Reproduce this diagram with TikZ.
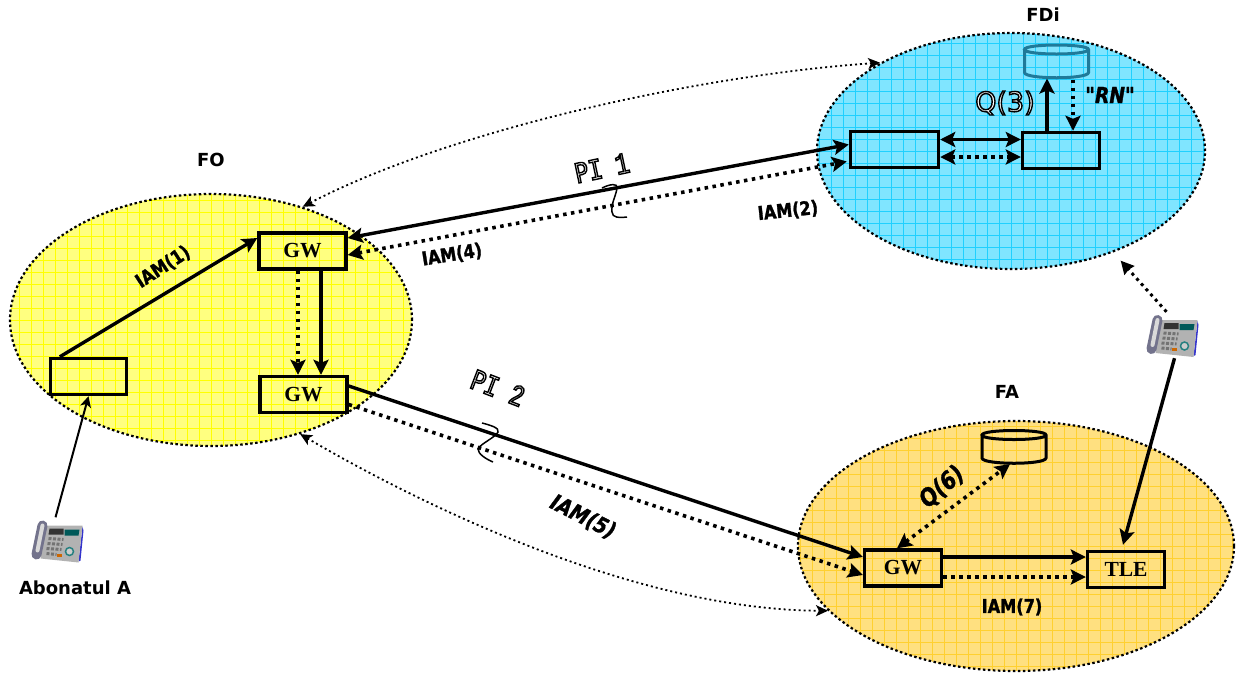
\documentclass[tikz,border=0pt]{standalone}
\usepackage{fontspec}
\usepackage{tikz}
\usetikzlibrary{arrows.meta,shapes.geometric}

\setmainfont{DejaVu Sans}
\newfontfamily\iamfont[FakeStretch=.85,FakeBold=1.5,UprightFont=* Bold,ItalicFont=* Bold Oblique]{DejaVu Sans}
\newfontfamily\gwfont{Liberation Serif}
\newfontfamily\slabfont[FakeStretch=.76]{Liberation Mono}

\newcommand{\hollowtext}[1]{\special{pdf:code q}\color{white}\special{pdf:code 0 G 2 Tr 1.4 w}#1\special{pdf:code Q}}
% a flat database drum on an empty node
\newcommand{\drawdrum}[2]{
  \draw[#2, line width=3pt] ([yshift=-4pt]#1.north west) -- ([yshift=4pt]#1.south west)
    .. controls ([yshift=-3pt]#1.south west) and ([yshift=-3pt]#1.south east) .. ([yshift=4pt]#1.south east)
    -- ([yshift=-4pt]#1.north east)
    .. controls ([yshift=2pt]#1.north east) and ([yshift=2pt]#1.north west) .. ([yshift=-4pt]#1.north west)
    .. controls ([yshift=-10pt]#1.north west) and ([yshift=-10pt]#1.north east) .. ([yshift=-4pt]#1.north east);
}

\definecolor{zoneyellow}{HTML}{FFFF80}
\definecolor{gridyellow}{HTML}{FFFF00}
\definecolor{zoneblue}{HTML}{80E5FF}
\definecolor{gridblue}{HTML}{20D0FF}
\definecolor{zoneorange}{HTML}{FFE080}
\definecolor{gridorange}{HTML}{FFD030}
\definecolor{dbteal}{HTML}{1F7A99}

\tikzset{
  zone/.style 2 args={ellipse, draw, inner sep=0pt, line width=2.2pt, dash pattern=on 2.5pt off 2.5pt, fill=#1,
    path picture={\draw[draw=#2, solid, line width=.6pt, step=12pt] (path picture bounding box.south west) grid (path picture bounding box.north east);}},
  bigtip/.tip={Stealth[length=15pt,width=15pt,inset=3pt]},
  solidline/.style={line width=3.4pt, -bigtip},
  dotline/.style={line width=3.6pt, dash pattern=on 3.5pt off 4.5pt, -bigtip},
  thinline/.style={line width=2pt, -{Stealth[length=11pt,width=11pt,inset=3pt]}},
  hairdot/.style={line width=1.8pt, dash pattern=on 2pt off 3pt, {Stealth[length=12pt,width=11pt,inset=3pt]}-{Stealth[length=12pt,width=11pt,inset=3pt]}},
  phone/.pic={
    \fill[blue!60!gray] (27,-14) -- (28,-10) -- (25,20) -- (23,21) -- cycle;
    \fill[gray!60] (-13,-15) -- (27,-15) -- (23,22) -- (-15,18) -- cycle;
    \draw[gray!90!blue, line width=10pt, line cap=round] (-13,-15) -- (-19,14);
    \draw[gray!30, line width=4pt, line cap=round] (-13,-15) -- (-18,10);
    \fill[black!80] (-6,-12) -- (8,-12) -- (8,-6) -- (-7,-6) -- cycle;
    \fill[teal!70!black] (9,-11) -- (24,-11) -- (23,-5) -- (9,-5) -- cycle;
    \draw[gray!110, line width=3pt, dash pattern=on 3pt off 1.5pt] (-7,-2) -- (8,-1);
    \draw[gray!110, line width=3pt, dash pattern=on 3pt off 1.5pt] (-8,3) -- (7,4);
    \draw[gray!110, line width=3pt, dash pattern=on 3pt off 1.5pt] (-9,8) -- (6,9);
    \draw[gray!110, line width=3pt, dash pattern=on 3pt off 1.5pt] (-9,13) -- (1,14);
    \fill[orange!80!black] (1,13) rectangle (6,16);
    \draw[teal!70!gray, line width=1.5pt, fill=gray!40] (14,11) circle (4);
  }
}

\begin{document}
\begin{tikzpicture}[x=1pt,y=-1pt]

        \useasboundingbox (0,0) rectangle (1239,673);

        \begin{scope}
          \node[zone={zoneyellow}{gridyellow}, minimum width=402pt, minimum height=252pt] (FO)  at (211,320)  {};
          \node[zone={zoneblue}{gridblue},     minimum width=388pt, minimum height=236pt] (FDi) at (1011,151) {};
          \node[zone={zoneorange}{gridorange}, minimum width=436pt, minimum height=250pt] (FA)  at (1016,546) {};
        \end{scope}

        \begin{scope}[every node/.style={rectangle, draw, line width=3.4pt, inner sep=0pt, font=\gwfont\bfseries\fontsize{21.5}{24}\selectfont}]
          \node[minimum width=76pt, minimum height=36pt] (boxA)  at (88.5,376.5) {};
          \node[minimum width=87pt, minimum height=36pt] (gwA)   at (302.5,251)  {GW};
          \node[minimum width=87pt, minimum height=36pt] (gwB)   at (303.5,394.5) {GW};
          \node[minimum width=88pt, minimum height=36pt] (boxL)  at (894.5,149.5) {};
          \node[minimum width=77pt, minimum height=36pt] (boxR)  at (1061,150.5) {};
          \node[minimum width=77pt, minimum height=36pt] (gwC)   at (903,568)    {GW};
          \node[minimum width=77pt, minimum height=36pt] (tle)   at (1126,569.5) {TLE};
        \end{scope}

        \begin{scope}[every node/.style={inner sep=0pt, outer sep=0pt, minimum width=64pt, minimum height=31pt}]
          \node (dbFDi) at (1056.5,61)  {};
          \node (dbFA)  at (1014,446.5) {};
        \end{scope}
        \drawdrum{dbFDi}{dbteal}
        \drawdrum{dbFA}{black}

        \begin{scope}[every node/.style={inner sep=0pt, minimum width=52pt, minimum height=46pt}]
          \node (telA) at (55.5,540.5) {};
          \node (telB) at (1170.5,335) {};
        \end{scope}
        \pic at (telA) {phone};
        \pic at (telB) {phone};

        \begin{scope}[every edge/.style={draw}]
          \path (telA.north) edge[thinline] (boxA.south);
          \path ([xshift=11pt]boxA.north west) edge[solidline] ([yshift=13pt]gwA.west);
          \path ([xshift=18.5pt]gwA.south) edge[solidline] ([xshift=17.5pt]gwB.north);
          \path ([xshift=-4.5pt]gwA.south) edge[dotline] ([xshift=-5.5pt]gwB.north);
          \path ([yshift=13pt]gwA.east) edge[solidline, bigtip-bigtip] ([yshift=5pt]boxL.west);
          \path ([yshift=-4pt]gwA.east) edge[dotline, bigtip-bigtip] ([shift={(-2pt,-12pt)}]boxL.west);
          \path ([yshift=8.5pt]gwB.east) edge[solidline] ([yshift=11pt]gwC.west);
          \path ([yshift=-10pt]gwB.east) edge[dotline] ([yshift=-7pt]gwC.west);
          \path ([yshift=10pt]boxL.east) edge[solidline, bigtip-bigtip] ([yshift=11pt]boxR.west);
          \path ([yshift=-7.5pt]boxL.east) edge[dotline, bigtip-bigtip] ([yshift=-6.5pt]boxR.west);
          \path ([xshift=-14pt]boxR.north) edge[solidline] ([shift={(-9.5pt,-2pt)}]dbFDi.south);
          \path ([shift={(16.5pt,-3pt)}]dbFDi.south) edge[dotline] ([xshift=12pt]boxR.north);
          \path ([xshift=-6pt]gwC.north) edge[dotline, bigtip-bigtip] ([shift={(-4pt,-2pt)}]dbFA.south);
          \path ([yshift=11pt]gwC.east) edge[solidline] ([yshift=12.5pt]tle.west);
          \path ([yshift=-9pt]gwC.east) edge[dotline] ([yshift=-7.5pt]tle.west);
          \path ([xshift=4pt]telB.south) edge[solidline] ([shift={(-3pt,5pt)}]tle.north);
          \path ([xshift=-4pt]telB.north) edge[line width=3pt, dash pattern=on 3pt off 4pt, -{Stealth[length=13pt,width=13pt,inset=1pt]}] ([shift={(8pt,-8pt)}]FDi.-45);
        \end{scope}

        % curved links between the zones
        \draw[hairdot] (FO.51) .. controls (450,130) and (700,75) .. (FDi.146);
        \draw[hairdot] (FO.-52) .. controls (430,510) and (640,610) .. (FA.199);

        % the two small hooks on the links
        \draw[line width=1.5pt] (602,188) .. controls (610,184) and (618,183) .. (617,188) .. controls (616,196) and (611,203) .. (612,212) .. controls (612,218) and (620,218) .. (627,217);
        \draw[line width=1.5pt] (482,423) .. controls (490,425) and (500,428) .. (498,432) .. controls (496,437) and (480,444) .. (478,449) .. controls (478,454) and (486,459) .. (493,462);

        \begin{scope}[every node/.style={font=\bfseries\fontsize{18}{20}\selectfont, inner sep=0pt}]
          \node (nameFO)  at (211,160)  {FO};
          \node (nameFDi) at (1043,15)  {FDi};
          \node (nameFA)  at (1007,392) {FA};
          \node (nameA)   at (75,588)   {Abonatul A};
        \end{scope}

        \begin{scope}[every node/.style={font=\iamfont\fontsize{19}{21}\selectfont, inner sep=0pt}]
          \node[rotate=33] (iam1) at (163,267) {IAM(1)};
          \node[rotate=6]  (iam2) at (788,211) {IAM(2)};
          \node[rotate=9]  (iam4) at (452,255) {IAM(4)};
          \node (iam7) at (1012,607) {IAM(7)};
          \node[rotate=-27, font=\iamfont\itshape\fontsize{22}{24}\selectfont] (iam5) at (583,517) {IAM(5)};
          \node[rotate=40, font=\iamfont\itshape\fontsize{24}{26}\selectfont]  (q6)   at (942,487) {Q(6)};
          \node[font=\iamfont\itshape\fontsize{22}{24}\selectfont] (rn) at (1110,95) {"RN"};
        \end{scope}

        \begin{scope}[every node/.style={inner sep=0pt}]
          \node[font=\fontsize{27}{29}\selectfont] (q3) at (1005,103) {\hollowtext{Q(3)}};
          \node[rotate=12, font=\slabfont\fontsize{30}{32}\selectfont]  (pi1) at (602,168) {\hollowtext{PI 1}};
          \node[rotate=-21, font=\slabfont\fontsize{30}{32}\selectfont] (pi2) at (498,388) {\hollowtext{PI 2}};
        \end{scope}

      \end{tikzpicture}
\end{document}
